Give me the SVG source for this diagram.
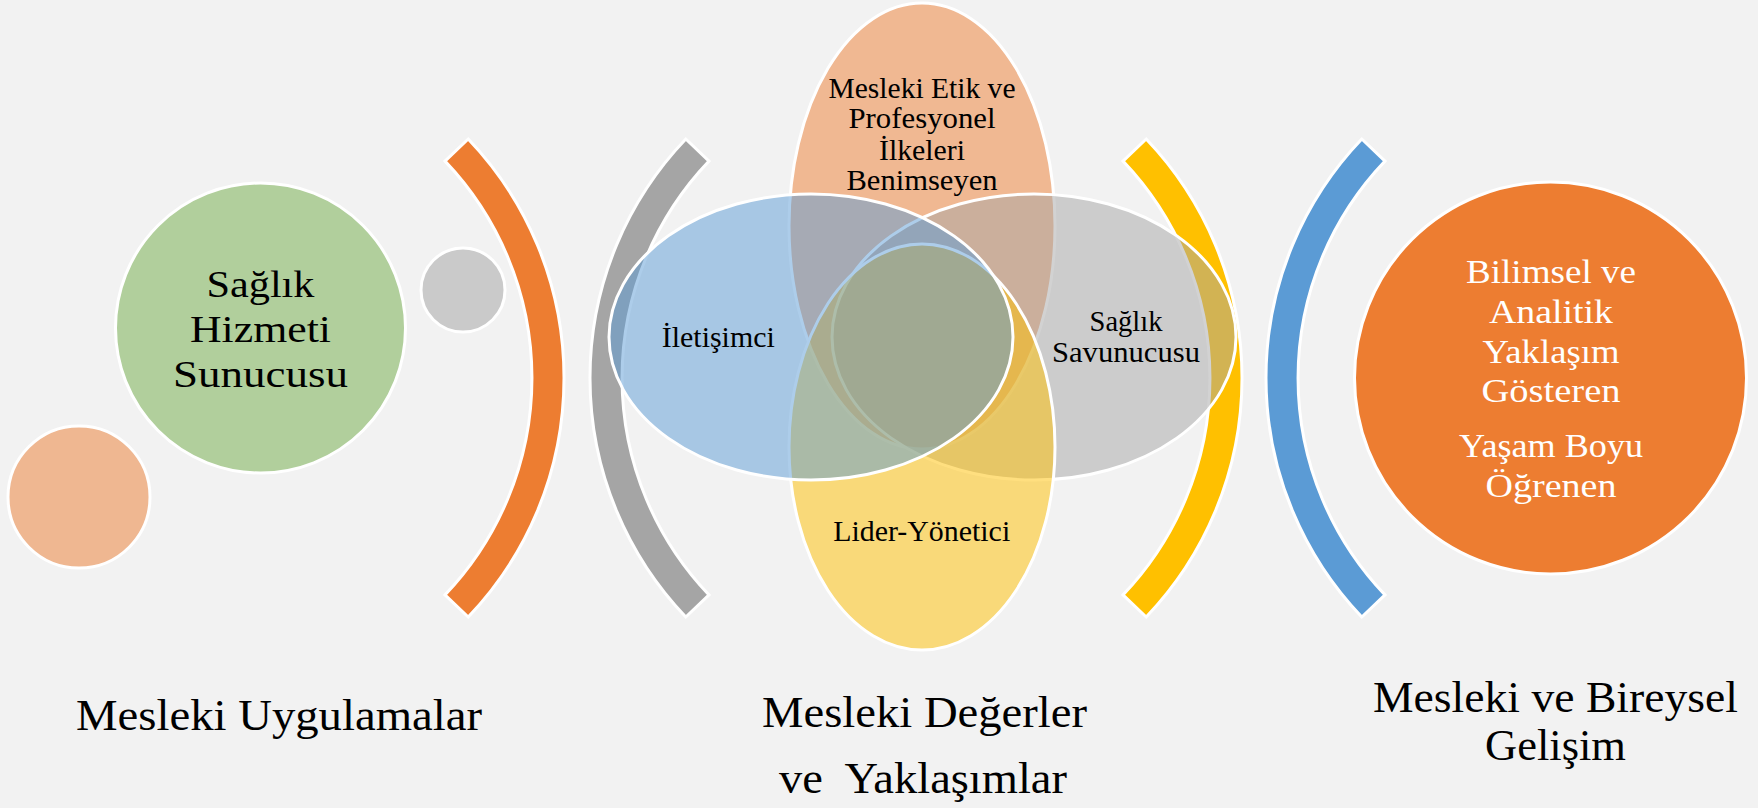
<svg xmlns="http://www.w3.org/2000/svg" width="1758" height="808" viewBox="0 0 1758 808">
<style>
text{font-family:"Liberation Serif","DejaVu Serif",serif;fill:#000;text-anchor:middle}
.w{fill:#fff}
.ol{stroke:#fff;stroke-width:3}
.v{stroke:#fff;stroke-width:3;fill-opacity:0.5}
</style>
<rect width="1758" height="808" fill="#f2f2f2"/>
<g id="brackets" class="ol">
<path id="arc-orange" fill="#ED7D31" d="M468.2,139 A346,346 0 0 1 468.2,617 L445,594.9 A314,314 0 0 0 445,161.1 Z"/>
<path id="arc-grey" fill="#A5A5A5" d="M685.8,139 A346,346 0 0 0 685.8,617 L709,594.9 A314,314 0 0 1 709,161.1 Z"/>
<path id="arc-yellow" fill="#FFC000" d="M1146.2,139 A346,346 0 0 1 1146.2,617 L1123,594.9 A314,314 0 0 0 1123,161.1 Z"/>
<path id="arc-blue" fill="#5B9BD5" d="M1361.8,139 A346,346 0 0 0 1361.8,617 L1385,594.9 A314,314 0 0 1 1385,161.1 Z"/>
</g>
<g id="circle-small-orange"><circle class="ol" cx="79" cy="497" r="71" fill="#efb791"/></g>
<g id="circle-small-grey"><circle class="ol" cx="463" cy="290" r="42" fill="#cacaca"/></g>
<g id="node-saglik-hizmeti">
<circle class="ol" cx="260.5" cy="328" r="145" fill="#b1cf9c"/>
<text font-size="38" x="260.5" y="296.7" textLength="108" lengthAdjust="spacingAndGlyphs">Sağlık</text>
<text font-size="38" x="260.5" y="341.7" textLength="141" lengthAdjust="spacingAndGlyphs">Hizmeti</text>
<text font-size="38" x="260.5" y="386.7" textLength="175" lengthAdjust="spacingAndGlyphs">Sunucusu</text>
</g>
<g id="venn">
<g id="node-etik"><ellipse class="v" cx="922" cy="226" rx="133" ry="223" fill="#ED7D31"/></g>
<g id="node-savunucu"><ellipse class="v" cx="1034" cy="337" rx="202" ry="143" fill="#A5A5A5"/></g>
<g id="node-lider"><ellipse class="v" cx="922" cy="447" rx="133" ry="203" fill="#FFC000"/></g>
<g id="node-iletisimci"><ellipse class="v" cx="811" cy="337" rx="202" ry="143" fill="#5B9BD5"/></g>
<g id="venn-labels" font-size="30">
<text font-size="30" x="922" y="97.7" textLength="187" lengthAdjust="spacingAndGlyphs">Mesleki Etik ve</text>
<text font-size="30" x="922" y="128.3" textLength="147" lengthAdjust="spacingAndGlyphs">Profesyonel</text>
<text font-size="30" x="922" y="160" textLength="86" lengthAdjust="spacingAndGlyphs">İlkeleri</text>
<text font-size="30" x="922" y="190" textLength="151" lengthAdjust="spacingAndGlyphs">Benimseyen</text>
<text font-size="30" x="718.3" y="346.7" textLength="113" lengthAdjust="spacingAndGlyphs">İletişimci</text>
<text font-size="29" x="1126" y="330.7" textLength="73" lengthAdjust="spacingAndGlyphs">Sağlık</text>
<text font-size="29" x="1126" y="361.7" textLength="148" lengthAdjust="spacingAndGlyphs">Savunucusu</text>
<text font-size="30" x="921.7" y="541" textLength="177" lengthAdjust="spacingAndGlyphs">Lider-Yönetici</text>
</g>
</g>
<g id="node-bilimsel">
<circle class="ol" cx="1550.5" cy="378" r="196" fill="#ED7D31"/>
<text class="w" font-size="34" x="1551" y="283.3" textLength="170" lengthAdjust="spacingAndGlyphs">Bilimsel ve</text>
<text class="w" font-size="34" x="1551" y="323.3" textLength="124" lengthAdjust="spacingAndGlyphs">Analitik</text>
<text class="w" font-size="34" x="1551" y="363.3" textLength="137" lengthAdjust="spacingAndGlyphs">Yaklaşım</text>
<text class="w" font-size="34" x="1551" y="401.7" textLength="139" lengthAdjust="spacingAndGlyphs">Gösteren</text>
<text class="w" font-size="34" x="1551" y="456.7" textLength="184" lengthAdjust="spacingAndGlyphs">Yaşam Boyu</text>
<text class="w" font-size="34" x="1551" y="496.7" textLength="131" lengthAdjust="spacingAndGlyphs">Öğrenen</text>
</g>
<g id="labels" font-size="45">
<text font-size="45" x="279" y="730" textLength="406" lengthAdjust="spacingAndGlyphs">Mesleki Uygulamalar</text>
<text font-size="45" x="924.5" y="727" textLength="325" lengthAdjust="spacingAndGlyphs">Mesleki Değerler</text>
<text font-size="45" x="923" y="793" textLength="288" lengthAdjust="spacingAndGlyphs" xml:space="preserve">ve  Yaklaşımlar</text>
<text font-size="45" x="1555.5" y="712" textLength="365" lengthAdjust="spacingAndGlyphs">Mesleki ve Bireysel</text>
<text font-size="45" x="1555.5" y="760" textLength="141" lengthAdjust="spacingAndGlyphs">Gelişim</text>
</g>
</svg>
